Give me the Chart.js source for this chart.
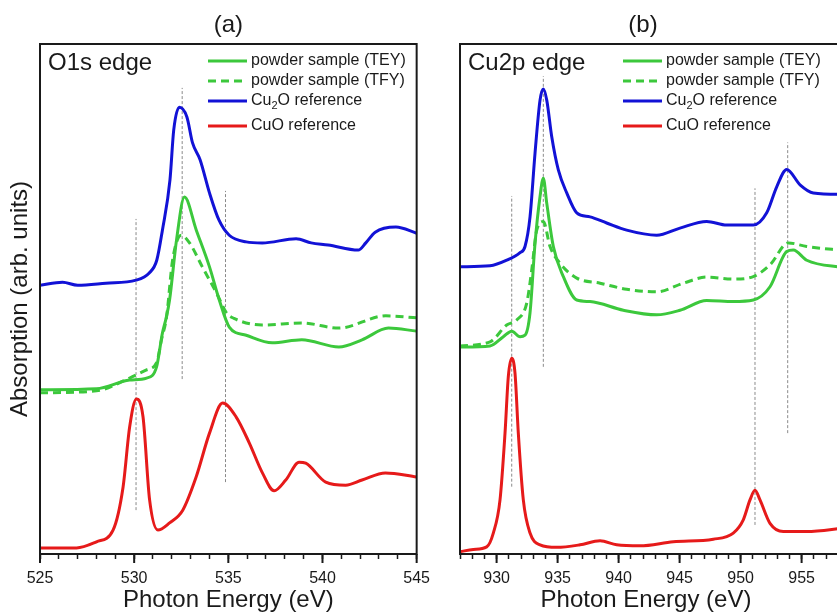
<!DOCTYPE html>
<html>
<head>
<meta charset="utf-8">
<script src="https://cdn.jsdelivr.net/npm/chart.js@4.4.0/dist/chart.umd.min.js"></script>
<style>
  html, body { margin: 0; padding: 0; background: #fff; overflow: hidden; }
  #wrap { position: relative; width: 837px; height: 615px; overflow: hidden; }
  #boxA { position: absolute; left: 0; top: 0; width: 440px; height: 615px; }
  #boxB { position: absolute; left: 420px; top: 0; width: 470px; height: 615px; }
</style>
</head>
<body>
<div id="wrap">
  <div id="boxA"><canvas id="chartA"></canvas></div>
  <div id="boxB"><canvas id="chartB"></canvas></div>
</div>
<script>
// ---- panel (a): O1s edge ----
const o1sTickLabels = [525, 530, 535, 540, 545];

const o1sTeyE = [525.0, 528.0, 529.76, 530.66, 531.19, 531.5, 531.7, 531.88, 532.25, 532.67, 533.3, 534.0, 534.52, 535.05, 535.95, 537.33, 538.9, 540.87, 542.1, 543.5, 545.0];
const o1sTey  = [32.2, 32.4, 34.1, 34.5, 36.7, 43.3, 46.3, 49.8, 61.6, 70.0, 63.5, 56.3, 49.8, 44.5, 42.9, 41.4, 42.0, 40.6, 42.0, 44.3, 43.7];

const o1sTfyE = [525.0, 528.0, 529.76, 530.66, 531.19, 531.45, 531.72, 532.04, 532.5, 532.94, 533.62, 534.37, 534.9, 535.3, 536.8, 538.9, 540.87, 543.36, 545.0];
const o1sTfy  = [31.6, 32.0, 34.5, 36.1, 37.5, 42.0, 46.5, 57.6, 62.5, 61.0, 56.3, 51.2, 47.3, 46.2, 44.9, 45.3, 44.3, 46.7, 46.3];

const o1sCu2oE = [525.0, 526.2, 527.0, 528.5, 530.1, 530.8, 531.2, 531.5, 531.9, 532.1, 532.4, 532.8, 533.1, 533.5, 534.0, 534.5, 535.05, 535.95, 536.8, 538.6, 539.4, 540.3, 541.9, 542.3, 542.8, 543.9, 545.0];
const o1sCu2o  = [52.7, 53.3, 52.7, 53.1, 53.7, 55.1, 57.6, 63.5, 73.3, 83.1, 87.6, 85.7, 80.6, 77.3, 70.8, 65.5, 62.5, 61.2, 61.0, 61.8, 61.0, 60.6, 59.6, 61.0, 63.1, 64.1, 62.9];

const o1sCuoE = [525.0, 526.94, 528.0, 528.88, 529.41, 529.76, 530.12, 530.47, 530.82, 531.26, 531.88, 532.58, 533.29, 534.0, 534.7, 535.41, 536.11, 536.81, 537.43, 538.05, 538.76, 539.11, 540.17, 541.23, 542.1, 543.34, 545.0];
const o1sCuo  = [1.2, 1.2, 2.4, 4.7, 13.1, 24.9, 30.4, 26.9, 10.6, 4.7, 6.1, 8.6, 15.1, 23.7, 29.6, 26.9, 21.8, 15.9, 12.4, 14.5, 18.0, 17.8, 14.1, 13.5, 14.5, 15.9, 15.1];

const o1sMarkE   = [530.1, 532.55, 534.85];
const o1sMarkTop = [65.7, 91.4, 71.2];
const o1sMarkBot = [8.6, 34.3, 14.1];

// ---- panel (b): Cu2p edge ----
const cu2pTickLabels = [930, 935, 940, 945, 950, 955, 960];

const cu2pTeyE = [927.0, 929.46, 930.55, 931.24, 931.92, 932.33, 932.74, 933.15, 933.56, 933.83, 934.11, 934.65, 935.47, 936.57, 937.66, 940.39, 943.12, 945.03, 947.22, 949.4, 951.04, 952.41, 953.78, 954.32, 955.42, 958.5];
const cu2pTey  = [40.6, 40.8, 42.6, 43.7, 42.6, 42.9, 47.3, 60.9, 70.1, 73.7, 68.8, 60.3, 54.4, 49.8, 49.5, 47.8, 46.9, 47.8, 49.7, 49.5, 49.8, 52.4, 59.3, 59.6, 57.6, 56.1];

const cu2pTfyE = [927.0, 929.46, 930.83, 931.65, 932.47, 932.88, 933.29, 933.83, 934.38, 935.2, 936.57, 938.48, 940.66, 943.12, 945.3, 947.22, 949.4, 951.04, 952.41, 953.91, 955.42, 958.5];
const cu2pTfy  = [40.8, 41.6, 44.9, 45.9, 49.2, 55.7, 63.5, 65.2, 60.3, 57.0, 54.1, 53.1, 51.9, 51.4, 53.1, 54.3, 53.9, 54.4, 56.7, 61.0, 60.3, 59.5];

const cu2pCu2oE = [927.0, 929.46, 930.83, 931.92, 932.33, 932.74, 933.15, 933.56, 933.83, 934.11, 934.52, 935.06, 935.75, 936.57, 937.66, 939.02, 940.66, 943.12, 945.03, 947.22, 948.86, 951.04, 952.14, 952.96, 953.78, 954.87, 955.96, 958.5];
const cu2pCu2o  = [56.3, 56.5, 57.6, 59.1, 60.3, 66.1, 78.6, 89.0, 91.2, 89.0, 81.8, 75.3, 70.8, 66.9, 66.1, 64.9, 63.5, 62.5, 63.9, 65.2, 64.5, 64.5, 66.9, 72.0, 75.4, 72.4, 70.8, 70.5];

const cu2pCuoE = [927.0, 928.09, 929.19, 929.73, 930.28, 930.69, 930.96, 931.24, 931.51, 931.78, 932.19, 932.74, 933.56, 934.93, 936.84, 938.48, 939.84, 941.75, 944.48, 947.76, 949.4, 950.22, 950.77, 951.18, 951.59, 952.41, 953.5, 955.42, 958.5];
const cu2pCuo  = [0.45, 0.9, 1.4, 4.1, 10.6, 23.7, 34.8, 38.4, 35.4, 23.7, 10.6, 4.1, 1.8, 1.3, 1.8, 2.6, 1.8, 1.6, 2.4, 2.9, 4.1, 6.7, 10.6, 12.5, 10.6, 6.0, 4.4, 4.4, 5.1];

const cu2pMarkE   = [931.24, 933.83, 951.18, 953.86];
const cu2pMarkTop = [70.2, 93.7, 71.7, 80.7];
const cu2pMarkBot = [13.2, 36.7, 5.7, 23.7];

const seriesLabels = ['powder sample (TEY)', 'powder sample (TFY)', 'Cu₂O reference', 'CuO reference'];
const xTitle = 'Photon Energy (eV)';

const FONT = '"Liberation Sans", Arial, Helvetica, sans-serif';
const INK = '#1a1a1a';
const GREEN = '#3cc83c', BLUE = '#1212d6', RED = '#e61a1a';

Chart.defaults.font.family = FONT;
Chart.defaults.color = INK;

function pts(xs, ys) {
  return xs.map((x, i) => ({ x: x, y: ys[i] }));
}

function curve(label, xs, ys, color, dash) {
  return {
    label: label,
    data: pts(xs, ys),
    borderColor: color,
    borderWidth: 3,
    borderDash: dash || [],
    pointRadius: 0,
    fill: false,
    cubicInterpolationMode: 'monotone',
    order: 1
  };
}

function markers(xs, tops, bots) {
  return xs.map((x, i) => ({
    label: '',
    isMarker: true,
    data: [{ x: x, y: bots[i] }, { x: x, y: tops[i] }],
    borderColor: '#8a8a8a',
    borderWidth: 1,
    borderDash: [3, 2],
    pointRadius: 0,
    tension: 0,
    order: 5
  }));
}

// frame, long ticks, panel name and legend (+ off-centre headings for the cropped panel)
const panelDecor = {
  id: 'panelDecor',
  afterDatasetsDraw(chart, args, opts) {
    const ctx = chart.ctx, a = chart.chartArea, x = chart.scales.x;
    ctx.save();
    ctx.strokeStyle = INK;
    ctx.lineWidth = 2;
    ctx.strokeRect(a.left, a.top, a.right - a.left, a.bottom - a.top);
    x.ticks.forEach(t => {
      if (opts.majors.includes(t.value)) {
        const px = x.getPixelForValue(t.value);
        ctx.beginPath();
        ctx.moveTo(px, a.bottom);
        ctx.lineTo(px, a.bottom + 9);
        ctx.stroke();
      }
    });

    ctx.fillStyle = INK;
    ctx.textBaseline = 'middle';
    ctx.font = '24px ' + FONT;
    if (opts.heads) {
      ctx.textAlign = 'center';
      ctx.fillText(opts.heads.title, opts.heads.titleX, 25);
      ctx.fillText(xTitle, opts.heads.xTitleX, chart.height - 14.4);
    }
    ctx.textAlign = 'left';
    ctx.fillText(opts.name, a.left + 8, a.top + 19);

    const rows = [17, 37, 57, 82];
    chart.data.datasets.filter(d => !d.isMarker).forEach((d, i) => {
      const y = a.top + rows[i];
      const x0 = a.left + opts.legendX;
      ctx.strokeStyle = d.borderColor;
      ctx.lineWidth = 3;
      ctx.setLineDash(d.borderDash);
      ctx.beginPath();
      ctx.moveTo(x0, y);
      ctx.lineTo(x0 + 39, y);
      ctx.stroke();
      ctx.setLineDash([]);
      let tx = x0 + 43;
      d.label.split('₂').forEach((part, k) => {
        if (k > 0) {
          ctx.font = '11px ' + FONT;
          ctx.fillText('2', tx, y + 5);
          tx += ctx.measureText('2').width;
        }
        ctx.font = '16px ' + FONT;
        ctx.fillText(part, tx, y);
        tx += ctx.measureText(part).width;
      });
    });
    ctx.restore();
  }
};

function makeChart(id, cfg) {
  return new Chart(document.getElementById(id), {
    type: 'line',
    data: { datasets: cfg.datasets },
    options: {
      responsive: true,
      maintainAspectRatio: false,
      animation: false,
      layout: { padding: { left: 0, right: cfg.padRight, top: cfg.heads ? 44 : 0, bottom: 0 } },
      scales: {
        x: {
          type: 'linear',
          min: cfg.min,
          max: cfg.max,
          ticks: {
            stepSize: 1,
            autoSkip: false,
            maxRotation: 0,
            padding: 10,
            color: INK,
            font: { size: 16 },
            callback: v => cfg.majors.includes(v) ? String(v) : ''
          },
          grid: { drawOnChartArea: false, tickLength: 5, tickColor: INK, tickWidth: 1.5 },
          border: { color: INK, width: 2 },
          title: {
            display: !cfg.heads,
            text: xTitle,
            color: INK,
            font: { size: 24 },
            padding: { top: 0, bottom: 0 }
          },
          afterFit: s => { s.height = 61; }
        },
        y: {
          min: 0,
          max: 100,
          ticks: { display: false },
          grid: { display: false },
          border: { color: INK, width: 2 },
          title: {
            display: cfg.yTitle,
            text: 'Absorption (arb. units)',
            color: INK,
            font: { size: 24 },
            padding: { top: 6, bottom: 0 }
          },
          afterFit: s => { s.width = 40; }
        }
      },
      plugins: {
        legend: { display: false },
        tooltip: { enabled: false },
        title: {
          display: !cfg.heads,
          text: cfg.title,
          fullSize: false,
          color: INK,
          font: { size: 24, weight: 'normal' },
          padding: { top: 10.6, bottom: 4.6 }
        },
        panelDecor: { name: cfg.name, majors: cfg.majors, legendX: cfg.legendX, heads: cfg.heads }
      }
    },
    plugins: [panelDecor]
  });
}

makeChart('chartA', {
  title: '(a)', name: 'O1s edge', min: 525, max: 545, majors: o1sTickLabels,
  padRight: 20, yTitle: true, legendX: 168,
  datasets: [
    curve(seriesLabels[0], o1sTeyE, o1sTey, GREEN),
    curve(seriesLabels[1], o1sTfyE, o1sTfy, GREEN, [8, 5]),
    curve(seriesLabels[2], o1sCu2oE, o1sCu2o, BLUE),
    curve(seriesLabels[3], o1sCuoE, o1sCuo, RED)
  ].concat(markers(o1sMarkE, o1sMarkTop, o1sMarkBot))
});

// panel (b) runs off the right edge of the figure; its headings sit where the original put them
makeChart('chartB', {
  title: '(b)', name: 'Cu2p edge', min: 927, max: 960, majors: cu2pTickLabels,
  padRight: 27.4, yTitle: false, legendX: 163,
  heads: { title: '(b)', titleX: 223, xTitleX: 226 },
  datasets: [
    curve(seriesLabels[0], cu2pTeyE, cu2pTey, GREEN),
    curve(seriesLabels[1], cu2pTfyE, cu2pTfy, GREEN, [8, 5]),
    curve(seriesLabels[2], cu2pCu2oE, cu2pCu2o, BLUE),
    curve(seriesLabels[3], cu2pCuoE, cu2pCuo, RED)
  ].concat(markers(cu2pMarkE, cu2pMarkTop, cu2pMarkBot))
});
</script>
</body>
</html>
